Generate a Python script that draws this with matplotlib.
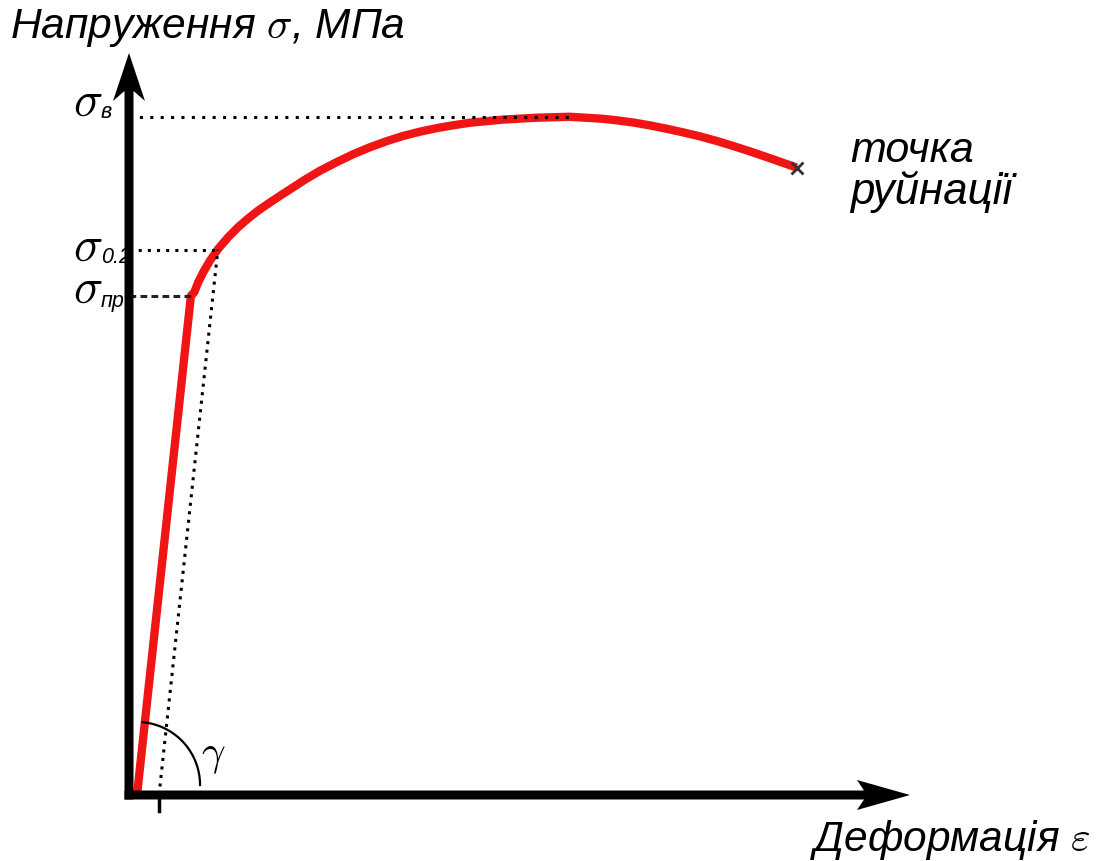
import numpy as np
import matplotlib
matplotlib.use("Agg")
import matplotlib.pyplot as plt
from matplotlib.patches import Polygon
from matplotlib.lines import Line2D
from matplotlib.transforms import IdentityTransform

plt.rcParams['mathtext.fontset'] = 'cm'
plt.rcParams['font.family'] = ['Liberation Sans', 'DejaVu Sans']

# Engineering stress-strain diagram (strain in %, stress in MPa)
strain = [0.0, 0.49, 0.521, 0.557, 0.603, 0.664, 0.739, 0.830, 0.921, 1.012,
          1.103, 1.209, 1.315, 1.436, 1.527, 1.664, 1.815, 1.964, 2.118,
          2.270, 2.418, 2.573, 2.725, 2.873, 3.027, 3.327, 3.634, 3.936,
          4.236, 4.360, 4.510, 4.660, 4.815, 4.960, 5.118, 5.270, 5.420,
          5.573, 5.725, 5.870, 6.0]
stress = [0.0, 368.0, 370.7, 378.1, 385.5, 394.0, 402.7, 411.3, 418.7, 425.1,
          430.9, 436.8, 442.5, 448.8, 453.6, 460.2, 466.5, 472.3, 477.5,
          482.0, 485.8, 489.0, 491.6, 493.7, 495.6, 497.9, 499.3, 500.0,
          498.5, 497.4, 495.8, 493.7, 491.2, 488.6, 485.6, 482.2, 478.5,
          474.5, 470.3, 466.2, 462.5]

eps_pr, sig_pr = 0.49, 368.0      # proportional limit
sig_02 = 402.0                    # offset yield strength
eps_b, sig_b = 3.936, 500.0       # ultimate strength
offset = 0.2                      # offset strain, %
modulus = sig_pr / eps_pr

W, H = 1096, 862
fig = plt.figure(figsize=(W / 100, H / 100), dpi=100)
ax = fig.add_axes([129 / W, 66 / H, 781 / W, 742 / H])
ax.set_xlim(-0.073, 7.03)
ax.set_ylim(0, 547)
ax.axis('off')

red = '#f01414'
ax.plot(strain, stress, color=red, lw=6, solid_joinstyle='round',
        solid_capstyle='butt', zorder=3, clip_on=False)
ax.plot(strain[-1], stress[-1], marker='x', ms=9, mew=2, color='#333333',
        zorder=5, clip_on=False)

# guide lines to the characteristic stresses
x0 = ax.get_xlim()[0]
ax.plot([x0, eps_b], [sig_b, sig_b], color='black', lw=2.2,
        ls=(0, (1, 2.4)), zorder=4)
eps_02 = offset + sig_02 / modulus
ax.plot([x0, eps_02], [sig_02, sig_02], color='black', lw=2.2,
        ls=(0, (1, 2.0)), zorder=4)
ax.plot([x0, eps_pr], [sig_pr, sig_pr], color='#222222', lw=2.2,
        ls=(0, (2.2, 1.4)), zorder=4)
ax.plot([offset, eps_02], [0, sig_02], color='black', lw=2.2,
        ls=(0, (1, 1.8)), zorder=4)
ax.plot([offset, offset], [0, -12], color='black', lw=2.5, clip_on=False,
        zorder=4)

# coordinate axes with arrowheads (display pixels)
bl = ax.transAxes.transform((0, 0))
tl = ax.transAxes.transform((0, 1))
br = ax.transAxes.transform((1, 0))
hw = 4.5
yv = [(bl[0] - hw, bl[1] - hw), (bl[0] + hw, bl[1] - hw),
      (tl[0] + hw, tl[1] - 38), (tl[0] + 16, tl[1] - 48), (tl[0], tl[1]),
      (tl[0] - 16, tl[1] - 48), (tl[0] - hw, tl[1] - 38)]
xv = [(bl[0] - hw, bl[1] - hw), (br[0] - 46, br[1] - hw),
      (br[0] - 53, br[1] - 15), (br[0], br[1]), (br[0] - 53, br[1] + 15),
      (br[0] - 46, br[1] + hw), (bl[0] - hw, bl[1] + hw)]
for verts in (yv, xv):
    fig.add_artist(Polygon(verts, closed=True, facecolor='black',
                           edgecolor='none', transform=IdentityTransform(),
                           zorder=6))

# angle of the elastic line
c = ax.transData.transform((0, 0)) + np.array([0, 10])
t = np.radians(np.linspace(0, 85, 60))
fig.add_artist(Line2D(c[0] + 63 * np.cos(t), c[1] + 63 * np.sin(t),
                      color='black', lw=1.6, transform=IdentityTransform()))
fig.text(201 / W, 1 - 765 / H, r'$\gamma$', fontsize=30, va='baseline')

# stress labels on the vertical axis
ytr = ax.get_yaxis_transform()
labels = [(sig_b, 'в', 2, 0), (sig_02, '0.2', -10, -12), (sig_pr, 'пр', -6, -10)]
for val, sub, dy_sig, dy_sub in labels:
    ax.annotate(r'$\sigma$', xy=(0, val), xycoords=ytr, xytext=(-26, dy_sig),
                textcoords='offset pixels', ha='right', va='baseline',
                fontsize=35, annotation_clip=False)
    ax.annotate(sub, xy=(0, val), xycoords=ytr, xytext=(-28, dy_sub),
                textcoords='offset pixels', ha='left', va='baseline',
                fontsize=15.5, style='italic', annotation_clip=False)

fig.text(10 / W, 1 - 38 / H, r'Напруження $\sigma$, МПа', fontsize=30.6,
         style='italic', va='baseline')
fig.text(810 / W, 1 - 851 / H, r'Деформація $\varepsilon$', fontsize=30.5,
         style='italic', va='baseline')
fig.text(850 / W, 1 - 162 / H, 'точка', fontsize=31, style='italic',
         va='baseline')
fig.text(850 / W, 1 - 204 / H, 'руйнації', fontsize=31.5, style='italic',
         va='baseline')

fig.savefig('out.png', dpi=100)
